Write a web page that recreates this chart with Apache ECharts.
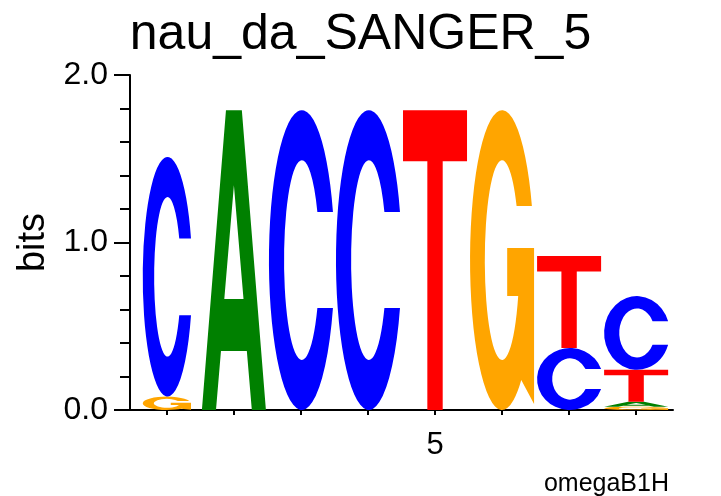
<!DOCTYPE html>
<html>
<head>
<meta charset="utf-8">
<script src="https://cdn.jsdelivr.net/npm/echarts@6/dist/echarts.min.js"></script>
<style>html,body{margin:0;padding:0;background:#fff;}#main{width:721px;height:496px;}</style>
</head>
<body>
<div id="main"></div>
<script>
const title = 'nau_da_SANGER_5';
const footnote = 'omegaB1H';
const positions = [1, 2, 3, 4, 5, 6, 7, 8];
const letters = ['A', 'C', 'G', 'T'];
const bitsA = [0.00, 1.79, 0.00, 0.00, 0.00, 0.00, 0.00, 0.03];
const bitsC = [1.43, 0.00, 1.79, 1.79, 0.00, 0.00, 0.37, 0.44];
const bitsG = [0.08, 0.00, 0.00, 0.00, 0.00, 1.79, 0.00, 0.02];
const bitsT = [0.00, 0.00, 0.00, 0.00, 1.79, 0.00, 0.55, 0.19];
const yTicks = [0, 1, 2];
const xLabelPositions = [5];

// ---- styles ----
const FONT = "'Liberation Sans', Arial, Helvetica, sans-serif";
const COLORS = {A: '#008000', C: '#0000FF', G: '#FFA500', T: '#FF0000'};
const GLYPHS = {
  A: 'M0 100 L37.6 0 L62.4 0 L100 100 L78 100 L70.2 80.3 L29.8 80.3 L22 100 Z M35 63 L65 63 L50 25 Z',
  C: 'M97.4 34 A50 50 0 1 0 97.4 66 L73.7 66 A27 33.3 0 1 1 73.7 34 Z',
  G: 'M96.6 32 A50 50 0 1 0 80 90 L100 98 L100 46 L58 46 L58 62 L75.2 62 A27 33.3 0 1 1 72.7 32 Z',
  T: 'M0 0 L100 0 L100 17 L62 17 L62 100 L38 100 L38 17 L0 17 Z'
};
const glyphWidth = function (pos) { return pos === 1 ? 0.72 : 0.955; };

// ---- build stacked letter items from the arrays ----
const table = {A: bitsA, C: bitsC, G: bitsG, T: bitsT};
const items = [];
positions.forEach(function (pos, i) {
  const col = letters.map(function (l) { return {l: l, h: table[l][i]}; })
    .filter(function (d) { return d.h > 0; })
    .sort(function (a, b) { return a.h - b.h; });
  let base = 0;
  col.forEach(function (d) {
    items.push({value: [pos, base, base + d.h, letters.indexOf(d.l)]});
    base += d.h;
  });
});

const chart = echarts.init(document.getElementById('main'), null, {renderer: 'canvas'});
chart.setOption({
  animation: false,
  backgroundColor: '#fff',
  title: {
    text: title, left: 'center', top: 5,
    textStyle: {fontFamily: FONT, fontSize: 50, fontWeight: 'normal', color: '#000'}
  },
  grid: {left: 130, right: 48, top: 75, bottom: 86},
  xAxis: {
    type: 'value', min: 0.45, max: 8.55,
    splitLine: {show: false},
    axisLine: {lineStyle: {color: '#000', width: 2}},
    axisTick: {show: true, length: 5, lineStyle: {color: '#000', width: 2}, customValues: positions},
    axisLabel: {customValues: xLabelPositions, margin: 20, fontFamily: FONT, fontSize: 31, color: '#000'}
  },
  yAxis: {
    type: 'value', min: 0, max: 2, interval: 1,
    name: 'bits', nameLocation: 'middle', nameRotate: 90, nameGap: 72,
    nameTextStyle: {fontFamily: FONT, fontSize: 38, color: '#000'},
    splitLine: {show: false},
    axisLine: {show: true, lineStyle: {color: '#000', width: 2}},
    axisTick: {show: true, length: 16, lineStyle: {color: '#000', width: 2}},
    minorTick: {show: true, splitNumber: 5, length: 10, lineStyle: {color: '#000', width: 2}},
    axisLabel: {
      margin: 22, fontFamily: FONT, fontSize: 32, color: '#000',
      formatter: function (v) { return yTicks.indexOf(v) >= 0 ? v.toFixed(1) : ''; }
    }
  },
  graphic: [{
    type: 'text', x: 669, y: 497,
    style: {text: footnote, font: '25px ' + FONT, fill: '#000', align: 'right', verticalAlign: 'bottom'}
  }],
  series: [{
    type: 'custom',
    clip: false,
    data: items,
    renderItem: function (params, api) {
      const pos = api.value(0);
      const w = glyphWidth(pos);
      const l = letters[api.value(3)];
      const bl = api.coord([pos - w / 2, api.value(1)]);
      const tr = api.coord([pos + w / 2, api.value(2)]);
      return {
        type: 'path',
        shape: {pathData: GLYPHS[l], x: bl[0], y: tr[1], width: tr[0] - bl[0], height: bl[1] - tr[1], layout: 'cover'},
        style: {fill: COLORS[l]}
      };
    }
  }]
});
</script>
</body>
</html>
